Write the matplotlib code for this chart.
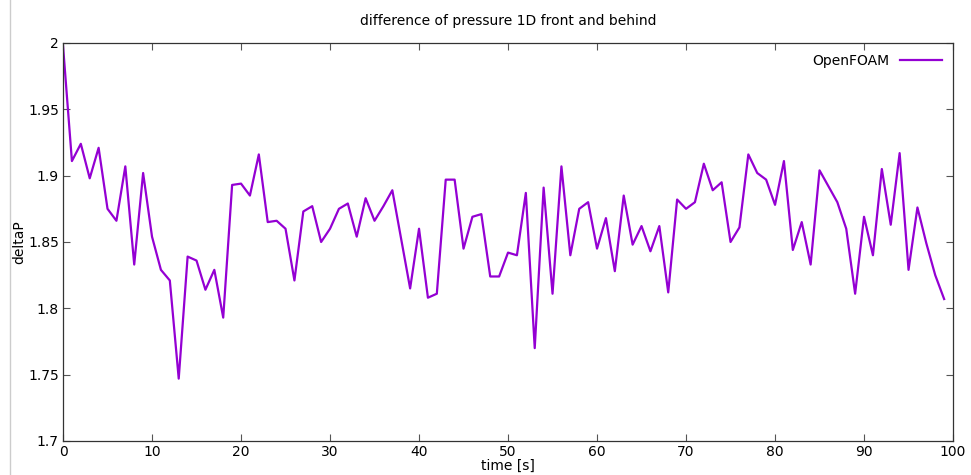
import numpy as np
import matplotlib
matplotlib.use('Agg')
import matplotlib.pyplot as plt
from matplotlib.lines import Line2D

time_s = list(range(100))
delta_p = [1.998, 1.911, 1.924, 1.898, 1.921, 1.875, 1.866, 1.907, 1.833, 1.902,
           1.854, 1.829, 1.821, 1.747, 1.839, 1.836, 1.814, 1.829, 1.793, 1.893,
           1.894, 1.885, 1.916, 1.865, 1.866, 1.860, 1.821, 1.873, 1.877, 1.850,
           1.860, 1.875, 1.879, 1.854, 1.883, 1.866, 1.877, 1.889, 1.852, 1.815,
           1.860, 1.808, 1.811, 1.897, 1.897, 1.845, 1.869, 1.871, 1.824, 1.824,
           1.842, 1.840, 1.887, 1.770, 1.891, 1.811, 1.907, 1.840, 1.875, 1.880,
           1.845, 1.868, 1.828, 1.885, 1.848, 1.862, 1.843, 1.862, 1.812, 1.882,
           1.875, 1.880, 1.909, 1.889, 1.895, 1.850, 1.861, 1.916, 1.902, 1.897,
           1.878, 1.911, 1.844, 1.865, 1.833, 1.904, 1.892, 1.880, 1.860, 1.811,
           1.869, 1.840, 1.905, 1.863, 1.917, 1.829, 1.876, 1.849, 1.825, 1.807]

xticks = [0, 10, 20, 30, 40, 50, 60, 70, 80, 90, 100]
yticks = [1.7, 1.75, 1.8, 1.85, 1.9, 1.95, 2.0]
ytick_labels = ['1.7', '1.75', '1.8', '1.85', '1.9', '1.95', '2']

fig = plt.figure(figsize=(9.71, 4.75), dpi=100)
ax = fig.add_axes([0.0649, 0.0716, 0.9166, 0.8379])

ax.plot(time_s, delta_p, color='#9400D3', lw=1.6, label='OpenFOAM')

ax.set_xlim(0, 100)
ax.set_ylim(1.7, 2.0)
ax.set_xticks(xticks)
ax.set_yticks(yticks)
ax.set_yticklabels(ytick_labels)
ax.tick_params(direction='in', top=True, right=True, length=5, width=0.8,
               color='#555555', labelsize=10, pad=3)
for s in ax.spines.values():
    s.set_color('#333333')
    s.set_linewidth(0.9)

ax.set_title('difference of pressure 1D front and behind', fontsize=10, pad=13)
ax.set_xlabel('time [s]', fontsize=10, labelpad=0)
ax.set_ylabel('deltaP', fontsize=10, labelpad=1)

ax.legend(loc='upper right', frameon=False, fontsize=10, markerfirst=False,
          handlelength=3.0, borderaxespad=0.4)

# thin grey border line at the left edge of the picture
fig.add_artist(Line2D([0.0108, 0.0108], [0, 1], color='#cccccc', lw=1))

fig.savefig('out.png', dpi=100)
